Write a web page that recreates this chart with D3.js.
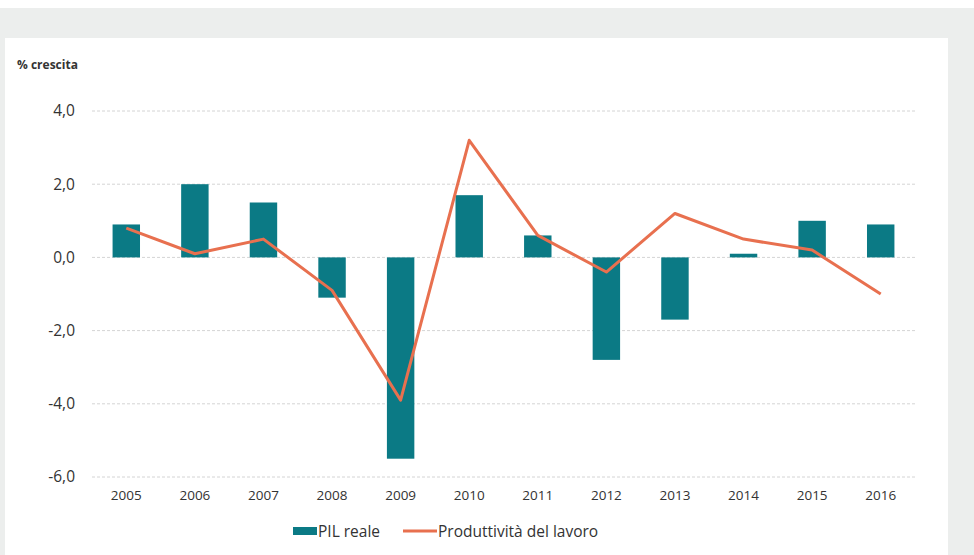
<!DOCTYPE html>
<html>
<head>
<meta charset="utf-8">
<script src="https://cdn.jsdelivr.net/npm/d3@7"></script>
<style>
  html, body { margin: 0; padding: 0; background: #ffffff; }
  svg { display: block; }
  text { font-family: "Open Sans", Lato, sans-serif; fill: #333333; }
</style>
</head>
<body>
<svg id="chart" width="974" height="555"></svg>
<script>
// Annual data
const years = ["2005","2006","2007","2008","2009","2010","2011","2012","2013","2014","2015","2016"];
const pilReale = [0.9, 2.0, 1.5, -1.1, -5.5, 1.7, 0.6, -2.8, -1.7, 0.1, 1.0, 0.9];
const produttivita = [0.8, 0.1, 0.5, -0.9, -3.9, 3.2, 0.6, -0.4, 1.2, 0.5, 0.2, -1.0];
const yTicks = [4, 2, 0, -2, -4, -6];
const seriesNames = ["PIL reale", "Produttività del lavoro"];

const W = 974, H = 555;
const barColor = "#0b7a85";
const lineColor = "#e8704f";
const textColor = "#333333";
const fontFamily = "'Open Sans', Lato, sans-serif";

const svg = d3.select("#chart");

// outer frame and white panel
svg.append("rect").attr("x", 0).attr("y", 8).attr("width", W).attr("height", H - 8).attr("fill", "#eceeed");
svg.append("rect").attr("x", 5).attr("y", 38).attr("width", 943).attr("height", H - 38).attr("fill", "#ffffff");

const x = d3.scaleBand().domain(years).range([92, 915]).paddingInner(0.6).paddingOuter(0.3);
const y = d3.scaleLinear().domain([-6, 4]).range([477, 111]);

// gridlines
svg.append("g").selectAll("line").data(yTicks).join("line")
  .attr("x1", 92).attr("x2", 915)
  .attr("y1", d => y(d)).attr("y2", d => y(d))
  .attr("stroke", "#d4d4d4").attr("stroke-width", 1).attr("stroke-dasharray", "3,2");

// y axis labels
const fmt = d => d3.format(".1f")(d).replace(".", ",").replace("−", "-");
const yAxis = d3.axisLeft(y).tickValues(yTicks).tickSize(0).tickPadding(0).tickFormat(fmt);
svg.append("g").attr("transform", "translate(75,0)").call(yAxis)
  .call(g => g.select(".domain").remove())
  .call(g => g.selectAll("text").attr("font-size", 15.5).attr("fill", textColor)
    .style("font-family", fontFamily));

// x axis labels
const xAxis = d3.axisBottom(x).tickSize(0).tickPadding(0);
svg.append("g").attr("transform", "translate(0,490)").call(xAxis)
  .call(g => g.select(".domain").remove())
  .call(g => g.selectAll("text").attr("font-size", 13.5).attr("fill", textColor)
    .style("font-family", fontFamily));

// bars
svg.append("g").selectAll("rect").data(years).join("rect")
  .attr("x", d => x(d))
  .attr("width", x.bandwidth())
  .attr("y", (d, i) => y(Math.max(0, pilReale[i])))
  .attr("height", (d, i) => Math.abs(y(pilReale[i]) - y(0)))
  .attr("fill", barColor);

// line
const line = d3.line()
  .x((d, i) => x(years[i]) + x.bandwidth() / 2)
  .y(d => y(d));
svg.append("path").datum(produttivita)
  .attr("d", line)
  .attr("fill", "none")
  .attr("stroke", lineColor)
  .attr("stroke-width", 3)
  .attr("stroke-linejoin", "round");

// axis title
svg.append("text").attr("x", 17).attr("y", 69)
  .attr("font-size", 12).attr("font-weight", "bold").attr("fill", "#222")
  .text("% crescita");

// legend
const lg = svg.append("g");
lg.append("rect").attr("x", 293).attr("y", 527).attr("width", 24).attr("height", 8).attr("fill", barColor);
lg.append("text").attr("x", 318).attr("y", 537).attr("font-size", 15.5).attr("fill", textColor).text(seriesNames[0]);
lg.append("line").attr("x1", 403).attr("x2", 437).attr("y1", 531).attr("y2", 531)
  .attr("stroke", lineColor).attr("stroke-width", 3);
lg.append("text").attr("x", 438).attr("y", 537).attr("font-size", 15.5).attr("fill", textColor).text(seriesNames[1]);
</script>
</body>
</html>
